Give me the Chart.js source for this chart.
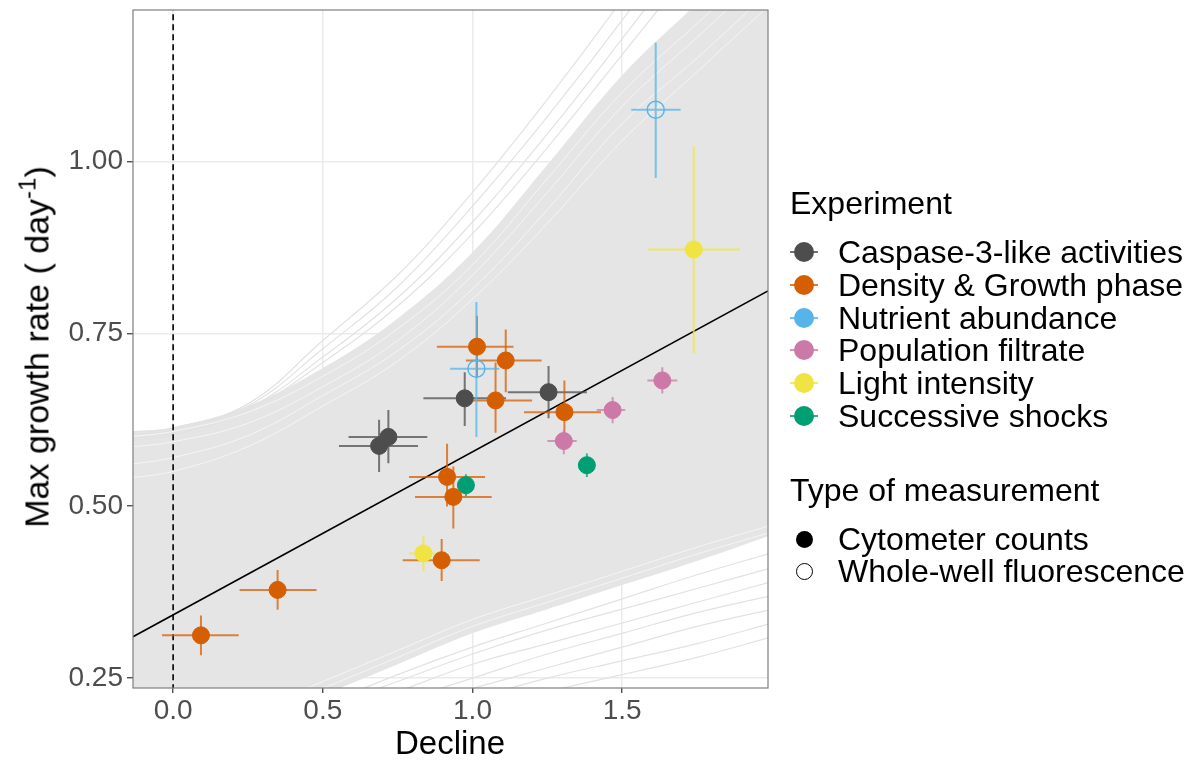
<!DOCTYPE html>
<html>
<head>
<meta charset="utf-8">
<script src="https://cdn.jsdelivr.net/npm/chart.js@4.4.1/dist/chart.umd.min.js"></script>
<style>
  html, body { margin: 0; padding: 0; background: #fff; }
  body { width: 1194px; height: 760px; position: relative; overflow: hidden;
         font-family: "Liberation Sans", Arial, sans-serif; color: #000; }
  #chart { position: absolute; left: 0; top: 0; }
  .ytitle { position: absolute; left: 37px; top: 347px; white-space: nowrap; font-size: 34px;
            transform: translate(-50%, -50%) rotate(-90deg); }
  .ytitle sup { font-size: 24px; position: relative; top: -4px; vertical-align: top; }
  .xtitle { position: absolute; left: 450px; top: 743px; font-size: 33px; transform: translate(-50%, -50%); }
  .lg-title { position: absolute; left: 790px; font-size: 32px; line-height: 32px; white-space: nowrap; }
  .lg-item { position: absolute; left: 838px; font-size: 32px; line-height: 32px; height: 32px; white-space: nowrap; }
  .key { position: absolute; width: 28px; height: 20px; }
  .key .ln { position: absolute; left: 0; right: 0; top: 9px; height: 2px; }
  .key .dot { position: absolute; left: 4px; top: 0; width: 20px; height: 20px; border-radius: 50%; box-sizing: border-box; }
</style>
</head>
<body>
<canvas id="chart" width="1194" height="760"></canvas>
<div class="ytitle">Max growth rate ( day<sup>-1</sup>)</div>
<div class="xtitle">Decline</div>
<div id="legend"></div>
<script>
// --- experiments -------------------------------------------------------
const experimentNames = ['Caspase-3-like activities', 'Density & Growth phase', 'Nutrient abundance',
                         'Population filtrate', 'Light intensity', 'Successive shocks'];
const experimentColors = ['#4d4d4d', '#d55e00', '#56b4e9', '#cc79a7', '#f0e442', '#009e73'];
const measureNames = ['Cytometer counts', 'Whole-well fluorescence'];

// --- points (one entry per estimate) -----------------------------------
const pointGroup = [1, 1, 4, 1, 1, 1, 5, 5, 0, 0, 0, 0, 1, 1, 1, 1, 3, 3, 3, 2, 2, 4];
const pointMeasure = [0, 0, 0, 0, 0, 0, 0, 0, 0, 0, 0, 0, 0, 0, 0, 0, 0, 0, 0, 1, 1, 0];
const declineVal = [0.093, 0.349, 0.836, 0.897, 0.915, 0.936, 0.978, 1.382, 0.688, 0.719, 0.974,
                    1.254, 1.015, 1.111, 1.077, 1.307, 1.305, 1.468, 1.634, 1.013, 1.612, 1.739];
const declineLo = [-0.037, 0.222, 0.788, 0.767, 0.788, 0.808, 0.966, 1.370, 0.554, 0.586, 0.836,
                   1.118, 0.881, 0.978, 0.955, 1.172, 1.250, 1.415, 1.584, 0.925, 1.530, 1.586];
const declineHi = [0.219, 0.479, 0.883, 1.024, 1.042, 1.064, 0.990, 1.394, 0.818, 0.849, 1.112,
                   1.382, 1.137, 1.231, 1.199, 1.429, 1.348, 1.510, 1.684, 1.090, 1.695, 1.893];
const growthVal = [0.312, 0.378, 0.431, 0.421, 0.542, 0.513, 0.530, 0.559, 0.587, 0.600, 0.656,
                   0.665, 0.731, 0.711, 0.653, 0.636, 0.594, 0.639, 0.682, 0.699, 1.075, 0.872];
const growthLo = [0.283, 0.349, 0.405, 0.391, 0.499, 0.467, 0.514, 0.542, 0.549, 0.562, 0.616,
                  0.627, 0.686, 0.665, 0.606, 0.595, 0.575, 0.620, 0.663, 0.600, 0.976, 0.722];
const growthHi = [0.341, 0.407, 0.457, 0.452, 0.590, 0.557, 0.546, 0.576, 0.625, 0.639, 0.694,
                  0.703, 0.776, 0.756, 0.708, 0.682, 0.610, 0.658, 0.701, 0.796, 1.172, 1.022];

// --- fitted line and reference line ------------------------------------
const fitX = [-0.134, 1.987];
const fitY = [0.310, 0.812];
const zeroX = [0, 0];
const zeroY = [0, 1.5];

// --- posterior draws (read at these decline values) ---------------------
const drawX = [-0.15, 0, 0.25, 0.5, 0.75, 1.0, 1.25, 1.5, 1.75, 2.0];
const bandUpper = [0.607, 0.614, 0.645, 0.700, 0.772, 0.868, 0.995, 1.125, 1.230, 1.340];
const bandLower = [0.120, 0.140, 0.180, 0.225, 0.270, 0.315, 0.350, 0.385, 0.420, 0.458];
const upperDraws = [
  [0.607, 0.613, 0.648, 0.740, 0.835, 0.955, 1.090, 1.235, 1.390, 1.550],
  [0.603, 0.610, 0.645, 0.728, 0.818, 0.935, 1.065, 1.205, 1.355, 1.500],
  [0.598, 0.606, 0.641, 0.716, 0.802, 0.912, 1.040, 1.178, 1.320, 1.460],
  [0.594, 0.603, 0.638, 0.708, 0.790, 0.895, 1.020, 1.155, 1.290, 1.420]
];
const lowerDraws = [
  [0.08, 0.11, 0.16, 0.210, 0.255, 0.295, 0.330, 0.365, 0.400, 0.432],
  [0.07, 0.10, 0.15, 0.205, 0.245, 0.285, 0.320, 0.350, 0.380, 0.410],
  [0.06, 0.09, 0.14, 0.190, 0.230, 0.270, 0.300, 0.330, 0.360, 0.390],
  [0.05, 0.08, 0.13, 0.180, 0.215, 0.250, 0.285, 0.315, 0.345, 0.370],
  [0.04, 0.07, 0.12, 0.170, 0.205, 0.235, 0.265, 0.295, 0.325, 0.350],
  [0.03, 0.06, 0.11, 0.160, 0.190, 0.220, 0.250, 0.275, 0.300, 0.330],
  [0.02, 0.05, 0.10, 0.150, 0.175, 0.200, 0.230, 0.255, 0.280, 0.310]
];
const gapDraws = [
  [0.600, 0.608, 0.636, 0.688, 0.757, 0.850, 0.975, 1.100, 1.200, 1.300],
  [0.585, 0.593, 0.620, 0.673, 0.740, 0.835, 0.955, 1.080, 1.180, 1.280],
  [0.560, 0.570, 0.602, 0.660, 0.725, 0.815, 0.930, 1.055, 1.150, 1.250],
  [0.540, 0.550, 0.586, 0.645, 0.710, 0.800, 0.910, 1.030, 1.130, 1.230],
  [0.13, 0.15, 0.19, 0.235, 0.280, 0.325, 0.360, 0.395, 0.430, 0.462],
  [0.14, 0.16, 0.20, 0.245, 0.290, 0.335, 0.370, 0.405, 0.440, 0.472]
];

// --- axes ------------------------------------------------------------------
const xTicks = [0, 0.5, 1.0, 1.5];
const xTickLabels = ['0.0', '0.5', '1.0', '1.5'];
const yTicks = [0.25, 0.50, 0.75, 1.00];
const yTickLabels = ['0.25', '0.50', '0.75', '1.00'];

function pts(xs, ys) { return xs.map((x, i) => ({ x: x, y: ys[i] })); }
function alpha(hex, a) {
  const n = parseInt(hex.slice(1), 16);
  return 'rgba(' + (n >> 16) + ',' + ((n >> 8) & 255) + ',' + (n & 255) + ',' + a + ')';
}

const curve = { type: 'line', pointRadius: 0, tension: 0.4, fill: false };
const datasets = [];
datasets.push(Object.assign({}, curve, { label: 'band', data: pts(drawX, bandUpper), borderWidth: 0,
  fill: '+1', backgroundColor: '#e5e5e5', order: 20 }));
datasets.push(Object.assign({}, curve, { label: 'bandLow', data: pts(drawX, bandLower), borderWidth: 0, order: 21 }));
gapDraws.forEach(d => datasets.push(Object.assign({}, curve, { label: 'gap', data: pts(drawX, d),
  borderColor: 'rgba(255,255,255,0.6)', borderWidth: 1, order: 15 })));
upperDraws.concat(lowerDraws).forEach(d => datasets.push(Object.assign({}, curve, { label: 'draw',
  data: pts(drawX, d), borderColor: '#e2e2e2', borderWidth: 1.2, order: 16 })));
datasets.push({ type: 'line', label: 'zero', data: pts(zeroX, zeroY), borderColor: '#000', borderWidth: 1.6,
  borderDash: [6, 4], pointRadius: 0, order: 5 });
datasets.push({ type: 'line', label: 'fit', data: pts(fitX, fitY), borderColor: '#000', borderWidth: 1.6,
  pointRadius: 0, order: 4 });

experimentNames.forEach((name, g) => {
  const idx = pointGroup.map((p, i) => p === g ? i : -1).filter(i => i >= 0);
  datasets.push({
    type: 'scatter', label: name, order: 0,
    data: idx.map(i => ({ x: declineVal[i], y: growthVal[i] })),
    backgroundColor: idx.map(i => pointMeasure[i] === 1 ? 'rgba(0,0,0,0)' : experimentColors[g]),
    borderColor: experimentColors[g],
    borderWidth: idx.map(i => pointMeasure[i] === 1 ? 1.5 : 1),
    pointRadius: 8.5
  });
});

const errorBars = {
  id: 'errorBars',
  afterDatasetDraw(chart, args) {
    if (chart.data.datasets[args.index].label !== 'fit') return;
    const ctx = chart.ctx, x = chart.scales.x, y = chart.scales.y, a = chart.chartArea;
    ctx.save();
    ctx.beginPath(); ctx.rect(a.left, a.top, a.right - a.left, a.bottom - a.top); ctx.clip();
    ctx.lineWidth = 2;
    declineVal.forEach((v, i) => {
      ctx.strokeStyle = alpha(experimentColors[pointGroup[i]], 0.75);
      const px = x.getPixelForValue(v), py = y.getPixelForValue(growthVal[i]);
      ctx.beginPath();
      ctx.moveTo(x.getPixelForValue(declineLo[i]), py); ctx.lineTo(x.getPixelForValue(declineHi[i]), py);
      ctx.moveTo(px, y.getPixelForValue(growthLo[i])); ctx.lineTo(px, y.getPixelForValue(growthHi[i]));
      ctx.stroke();
    });
    ctx.restore();
  }
};

const panelBorder = {
  id: 'panelBorder',
  afterDraw(chart) {
    const ctx = chart.ctx, a = chart.chartArea;
    ctx.save();
    ctx.strokeStyle = '#7f7f7f'; ctx.lineWidth = 1.2;
    ctx.strokeRect(a.left, a.top, a.right - a.left, a.bottom - a.top);
    ctx.restore();
  }
};

new Chart(document.getElementById('chart'), {
  type: 'scatter',
  data: { datasets: datasets },
  plugins: [errorBars, panelBorder],
  options: {
    responsive: false, animation: false, devicePixelRatio: 1, events: [],
    layout: { padding: { left: 0, top: 8, right: 426, bottom: 0 } },
    plugins: { legend: { display: false }, tooltip: { enabled: false } },
    scales: {
      x: {
        type: 'linear', min: -0.134, max: 1.987,
        afterFit(scale) { scale.height = 72; scale.paddingLeft = 0; scale.paddingRight = 0; },
        afterBuildTicks(axis) { axis.ticks = xTicks.map(v => ({ value: v })); },
        ticks: { callback: (v) => xTickLabels[xTicks.indexOf(v)], color: '#4d4d4d', padding: 1,
                 font: { family: 'Liberation Sans', size: 28 }, maxRotation: 0 },
        grid: { color: '#ebebeb', lineWidth: 1.5, tickColor: '#333', tickLength: 5, tickWidth: 1.2 },
        border: { display: false }
      },
      y: {
        type: 'linear', min: 0.2356, max: 1.2197,
        afterFit(scale) { scale.width = 133; scale.paddingTop = 0; scale.paddingBottom = 0; },
        afterBuildTicks(axis) { axis.ticks = yTicks.map(v => ({ value: v })); },
        ticks: { callback: (v) => yTickLabels[yTicks.indexOf(v)], color: '#4d4d4d', padding: 4,
                 font: { family: 'Liberation Sans', size: 28 } },
        grid: { color: '#ebebeb', lineWidth: 1.5, tickColor: '#333', tickLength: 6, tickWidth: 1.2 },
        border: { display: false }
      }
    }
  }
});

// --- legend ------------------------------------------------------------------
const legend = document.getElementById('legend');
function addTitle(text, cy) {
  const d = document.createElement('div');
  d.className = 'lg-title'; d.textContent = text; d.style.top = (cy - 16) + 'px';
  legend.appendChild(d);
}
function addItem(text, cy, color, open, withLine) {
  const k = document.createElement('div');
  k.className = 'key'; k.style.left = '790px'; k.style.top = (cy - 10) + 'px';
  k.innerHTML = (withLine ? '<i class="ln" style="background:' + alpha(color, 0.8) + '"></i>' : '') +
    '<i class="dot" style="' + (open ? 'border:1.5px solid ' + color + ';width:17px;height:17px;left:6px;top:2px'
                                      : 'background:' + color + (withLine ? '' : ';width:17px;height:17px;left:6px;top:2px')) + '"></i>';
  legend.appendChild(k);
  const d = document.createElement('div');
  d.className = 'lg-item'; d.textContent = text; d.style.top = (cy - 16) + 'px';
  legend.appendChild(d);
}
addTitle('Experiment', 203);
experimentNames.forEach((n, i) => addItem(n, 252 + i * 32.8, experimentColors[i], false, true));
addTitle('Type of measurement', 490);
addItem(measureNames[0], 539, '#000', false, false);
addItem(measureNames[1], 571, '#000', true, false);
</script>
</body>
</html>
